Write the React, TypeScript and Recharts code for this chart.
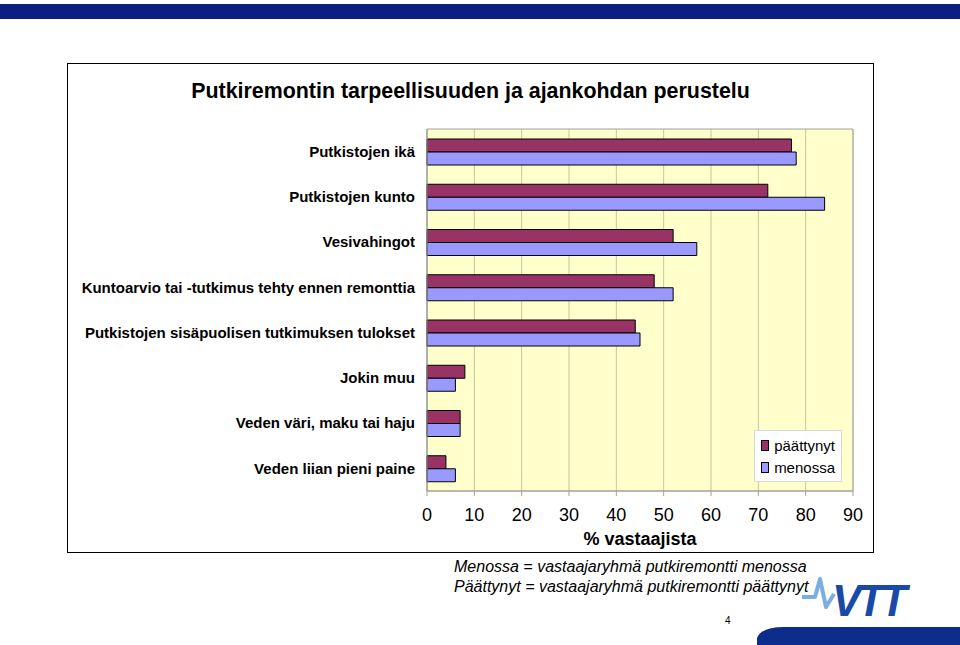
import React from "react";
import {
  BarChart,
  Bar,
  XAxis,
  YAxis,
  CartesianGrid,
  ReferenceArea,
  Legend,
} from "recharts";

const categories = [
  "Putkistojen ikä",
  "Putkistojen kunto",
  "Vesivahingot",
  "Kuntoarvio tai -tutkimus tehty ennen remonttia",
  "Putkistojen sisäpuolisen tutkimuksen tulokset",
  "Jokin muu",
  "Veden väri, maku tai haju",
  "Veden liian pieni paine",
];
const paattynyt = [77, 72, 52, 48, 44, 8, 7, 4];
const menossa = [78, 84, 57, 52, 45, 6, 7, 6];
const xTicks = [0, 10, 20, 30, 40, 50, 60, 70, 80, 90];

const COLORS = {
  paattynyt: "#993366",
  menossa: "#9999ff",
};

const FONT = "'Liberation Sans', Arial, sans-serif";

const data = categories.map((name, i) => ({
  name,
  paattynyt: paattynyt[i],
  menossa: menossa[i],
}));

function LegendBox() {
  const items = [
    { label: "päättynyt", color: COLORS.paattynyt },
    { label: "menossa", color: COLORS.menossa },
  ];
  return (
    <div
      style={{
        background: "#fff",
        border: "1px solid #d8d8d8",
        padding: "3px 6px",
        fontFamily: FONT,
        fontSize: 15,
        width: 74,
      }}
    >
      {items.map((it) => (
        <div key={it.label} style={{ display: "flex", alignItems: "center", height: 22 }}>
          <span
            style={{
              width: 9,
              height: 9,
              background: it.color,
              border: "1px solid #000",
              marginRight: 5,
              display: "inline-block",
            }}
          />
          {it.label}
        </div>
      ))}
    </div>
  );
}

export default function App() {
  return (
    <div
      style={{
        position: "absolute",
        left: 0,
        top: 0,
        width: 960,
        height: 645,
        background: "#fff",
        overflow: "hidden",
        fontFamily: FONT,
      }}
    >
      {/* header strip */}
      <div style={{ position: "absolute", left: 0, top: 4, width: 960, height: 15, background: "#0c1e82" }} />

      {/* chart frame */}
      <div
        style={{
          position: "absolute",
          left: 67,
          top: 63,
          width: 805,
          height: 488,
          border: "1px solid #000",
        }}
      />
      <div
        style={{
          position: "absolute",
          left: 67,
          top: 79,
          width: 807,
          textAlign: "center",
          fontSize: 21.4,
          fontWeight: "bold",
        }}
      >
        Putkiremontin tarpeellisuuden ja ajankohdan perustelu
      </div>

      <div style={{ position: "absolute", left: 0, top: 0 }}>
        <BarChart
          width={960}
          height={645}
          data={data}
          layout="vertical"
          margin={{ top: 129, right: 107, bottom: 124, left: 57 }}
          barGap={0}
        >
          <CartesianGrid horizontal={false} stroke="#c9c59a" fill="#ffffcc" />
          <XAxis
            type="number"
            domain={[0, 90]}
            ticks={xTicks}
            interval={0}
            height={30}
            tick={{ fontSize: 18, fill: "#000", fontFamily: FONT }}
            tickLine={{ stroke: "#a0a0a0" }}
            tickSize={5}
            tickMargin={12}
            axisLine={{ stroke: "#a0a0a0" }}
            label={{
              value: "% vastaajista",
              position: "insideBottom",
              offset: -24,
              style: { fontSize: 18, fontWeight: "bold", fill: "#000", fontFamily: FONT },
            }}
          />
          <YAxis
            type="category"
            dataKey="name"
            width={370}
            tick={{ fontSize: 15, fontWeight: "bold", fill: "#000", fontFamily: FONT }}
            tickLine={false}
            tickMargin={6}
            axisLine={{ stroke: "#a0a0a0" }}
            interval={0}
          />
          <ReferenceArea
            x1={0}
            x2={90}
            fill="none"
            stroke="#a0a0a0"
            strokeWidth={1}
            ifOverflow="visible"
          />
          <Legend
            layout="vertical"
            verticalAlign="middle"
            align="center"
            wrapperStyle={{ left: 754, top: 430, width: 88 }}
            content={<LegendBox />}
          />
          <Bar
            dataKey="paattynyt"
            name="päättynyt"
            fill={COLORS.paattynyt}
            stroke="#000"
            strokeWidth={1}
            barSize={13}
            isAnimationActive={false}
          />
          <Bar
            dataKey="menossa"
            name="menossa"
            fill={COLORS.menossa}
            stroke="#000"
            strokeWidth={1}
            barSize={13}
            isAnimationActive={false}
          />
        </BarChart>
      </div>

      {/* notes */}
      <div
        style={{
          position: "absolute",
          left: 454,
          top: 557,
          fontSize: 16,
          fontStyle: "italic",
          lineHeight: "20px",
        }}
      >
        <div>Menossa = vastaajaryhmä putkiremontti menossa</div>
        <div>Päättynyt = vastaajaryhmä putkiremontti päättynyt</div>
      </div>

      <div style={{ position: "absolute", left: 725, top: 615, fontSize: 10 }}>4</div>

      {/* logo */}
      <svg style={{ position: "absolute", left: 0, top: 0 }} width={960} height={645}>
        <path
          d="M802 597 L815 597 L820 579 L826 607 L834 594"
          fill="none"
          stroke="#7aaee0"
          strokeWidth={4}
          strokeLinejoin="round"
        />
        <text
          x={832}
          y={616}
          fontFamily={FONT}
          fontWeight="bold"
          fontStyle="italic"
          fontSize={44}
          fill="#1a4aa8"
          letterSpacing={-4}
        >
          VTT
        </text>
        <path d="M757 645 L757 638 Q761 627 784 627 L960 627 L960 645 Z" fill="#0c2d8c" />
      </svg>
    </div>
  );
}
